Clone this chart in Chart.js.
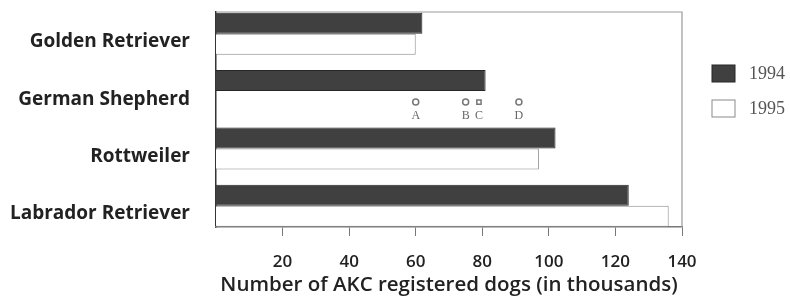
<!DOCTYPE html>
<html>
<head>
<meta charset="utf-8">
<script src="https://cdn.jsdelivr.net/npm/chart.js@4.4.1/dist/chart.umd.min.js"></script>
<style>
  html, body { margin: 0; padding: 0; background: #fff; }
  #wrap { width: 790px; height: 297px; }
</style>
</head>
<body>
<div id="wrap"><canvas id="myChart" width="790" height="297"></canvas></div>
<script>
// breeds, top to bottom
const breeds = ["Golden Retriever", "German Shepherd", "Rottweiler", "Labrador Retriever"];
// AKC registered dogs, in thousands
const dogs1994 = [62, 81, 102, 124];
const dogs1995 = [60, null, 97, 136];   // German Shepherd 1995 left out (question)
// answer choices for the missing bar
const choiceLabels = ["A", "B", "C", "D"];
const choiceValues = [60, 75, 79, 91];
const choiceRow = 1.19;
const xTicks = [20, 40, 60, 80, 100, 120, 140];

// frame round the plot (top and right side)
const frame = {
    id: "frame",
    beforeDatasetsDraw(chart) {
        const { ctx, chartArea: a } = chart;
        ctx.save();
        ctx.strokeStyle = "#999";
        ctx.lineWidth = 1.2;
        ctx.beginPath();
        ctx.moveTo(a.left, a.top);
        ctx.lineTo(a.right, a.top);
        ctx.lineTo(a.right, a.bottom);
        ctx.stroke();
        ctx.restore();
    }
};

// letters under the answer markers
const choiceText = {
    id: "choiceText",
    afterDatasetsDraw(chart) {
        const ctx = chart.ctx;
        const meta = chart.getDatasetMeta(2);
        ctx.save();
        ctx.font = '12px "Liberation Serif"';
        ctx.fillStyle = "#666";
        ctx.textAlign = "center";
        ctx.textBaseline = "middle";
        meta.data.forEach((pt, i) => ctx.fillText(choiceLabels[i], pt.x, pt.y + 14));
        ctx.restore();
    }
};

// legend on the right, drawn by hand
const sideLegend = {
    id: "sideLegend",
    afterDraw(chart) {
        const { ctx, chartArea: a } = chart;
        const items = [chart.data.datasets[0], chart.data.datasets[1]];
        ctx.save();
        items.forEach((ds, i) => {
            const y = 65 + i * 35;
            ctx.fillStyle = ds.backgroundColor;
            ctx.strokeStyle = ds.borderColor;
            ctx.lineWidth = 1;
            ctx.fillRect(a.right + 30, y, 23, 17);
            ctx.strokeRect(a.right + 30, y, 23, 17);
            ctx.fillStyle = "#555";
            ctx.font = '18px "Liberation Serif"';
            ctx.textBaseline = "middle";
            ctx.fillText(ds.label, a.right + 67, y + 9);
        });
        ctx.restore();
    }
};

const ctx = document.getElementById("myChart").getContext("2d");
new Chart(ctx, {
    type: "bar",
    data: {
        datasets: [
            {
                label: "1994",
                data: breeds.map((b, i) => ({ x: dogs1994[i], y: i })),
                backgroundColor: "#404040",
                borderColor: "#262626",
                borderWidth: 1,
                categoryPercentage: 0.733,
                barPercentage: 1
            },
            {
                label: "1995",
                data: breeds.map((b, i) => ({ x: dogs1995[i], y: i })),
                backgroundColor: "#ffffff",
                borderColor: "#8a8a8a",
                borderWidth: 1,
                categoryPercentage: 0.733,
                barPercentage: 1
            },
            {
                type: "scatter",
                label: "choices",
                indexAxis: "x",
                data: choiceValues.map(v => ({ x: v, y: choiceRow })),
                pointStyle: ["circle", "circle", "rect", "circle"],
                pointRadius: 3,
                backgroundColor: "#fff",
                borderColor: "#777",
                borderWidth: 1.5
            }
        ]
    },
    options: {
        responsive: false,
        animation: false,
        indexAxis: "y",
        layout: { padding: { top: 12, right: 108, left: 0, bottom: 0 } },
        plugins: {
            legend: { display: false },
            tooltip: { enabled: false }
        },
        scales: {
            y: {
                type: "linear",
                reverse: true,
                offset: false,
                min: -0.38,
                max: 3.37,
                afterBuildTicks: s => { s.ticks = breeds.map((b, i) => ({ value: i })); },
                afterFit: s => { s.width = 216; s.paddingTop = 0; s.paddingBottom = 0; },
                grid: { display: false, offset: false },
                border: { display: true, color: "#333", width: 1.5 },
                ticks: {
                    callback: v => breeds[v] ?? "",
                    labelOffset: 8,
                    padding: 18,
                    color: "#222",
                    font: { family: "Open Sans", size: 19, weight: "bold" }
                }
            },
            x: {
                type: "linear",
                min: 0,
                max: 140,
                afterBuildTicks: s => { s.ticks = xTicks.map(v => ({ value: v })); },
                afterFit: s => { s.height = 70; },
                grid: { drawOnChartArea: false, drawTicks: true, tickLength: 9, color: "#777" },
                border: { display: true, color: "#777", width: 1.5 },
                ticks: {
                    padding: 16,
                    color: "#222",
                    font: { family: "Open Sans", size: 17, weight: "600" }
                },
                title: {
                    display: true,
                    text: "Number of AKC registered dogs (in thousands)",
                    color: "#222",
                    padding: { top: 0, bottom: 0 },
                    font: { family: "Open Sans", size: 20.5, weight: "600" }
                }
            }
        }
    },
    plugins: [frame, choiceText, sideLegend]
});
</script>
</body>
</html>
